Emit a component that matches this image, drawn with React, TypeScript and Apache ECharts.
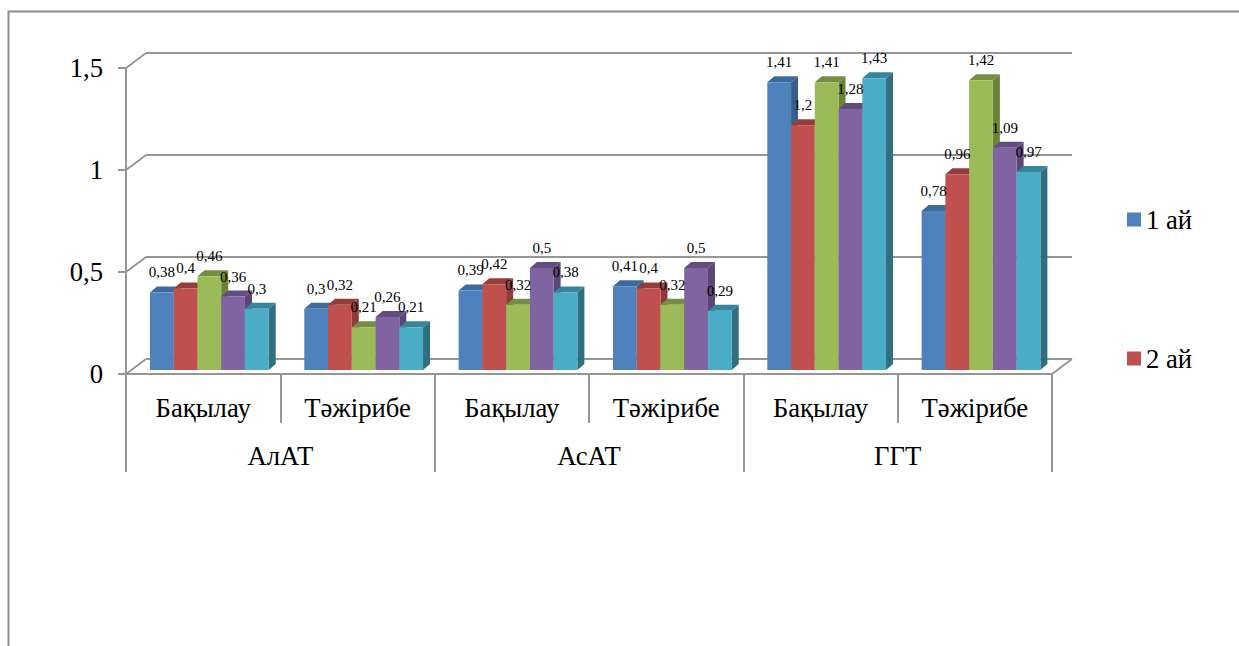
import React, { useEffect, useRef } from "react";
import * as echarts from "echarts";

const subCategories = ["Бақылау", "Тәжірибе", "Бақылау", "Тәжірибе", "Бақылау", "Тәжірибе"];
const mainCategories = ["АлАТ", "АсАТ", "ГГТ"];
const yTicks = [0, 0.5, 1, 1.5];
const legendNames = ["1 ай", "2 ай"];

const month1 = [0.38, 0.3, 0.39, 0.41, 1.41, 0.78];
const month2 = [0.4, 0.32, 0.42, 0.4, 1.2, 0.96];
const month3 = [0.46, 0.21, 0.32, 0.32, 1.41, 1.42];
const month4 = [0.36, 0.26, 0.5, 0.5, 1.28, 1.09];
const month5 = [0.3, 0.21, 0.38, 0.29, 1.43, 0.97];

const names = ["1 ай", "2 ай", "3 ай", "4 ай", "5 ай"];
const seriesValues = [month1, month2, month3, month4, month5];
const frontColors = ["#4f81bd", "#c0504d", "#9bbb59", "#8064a2", "#4bacc6"];
const topColors = ["#3f6a9c", "#963d3b", "#748d42", "#624d80", "#36859b"];
const sideColors = ["#385d8a", "#8e3a38", "#6b8239", "#5a4675", "#2f6f80"];

const FONT = "'Liberation Serif', 'Times New Roman', serif";
const GRAY = "#969696";
const BAR_W = 23.75;
const DX = 7;
const DY = 6;
const comma = (v: number) => String(v).replace(".", ",");

function barRenderer(si: number) {
  return (_p: any, api: any) => {
    const cat = api.value(0);
    const val = api.value(1);
    const [cx, yTop0] = api.coord([cat, val]);
    const [, yBase0] = api.coord([cat, 0]);
    const yTop = yTop0 - 4;
    const yBase = yBase0 - 4;
    const x0 = cx - 53.2 + si * BAR_W;
    const x1 = x0 + BAR_W;
    return {
      type: "group",
      children: [
        {
          type: "polygon",
          shape: { points: [[x1, yTop], [x1 + DX, yTop - DY], [x1 + DX, yBase - DY], [x1, yBase]] },
          style: { fill: sideColors[si] },
        },
        {
          type: "polygon",
          shape: { points: [[x0, yTop], [x0 + DX, yTop - DY], [x1 + DX, yTop - DY], [x1, yTop]] },
          style: { fill: topColors[si] },
        },
        {
          type: "rect",
          shape: { x: x0, y: yTop, width: BAR_W, height: yBase - yTop },
          style: { fill: frontColors[si] },
        },
        {
          type: "text",
          z2: 100,
          style: {
            x: (x0 + x1) / 2,
            y: yTop - 20,
            text: comma(val),
            fill: "#000",
            font: `15px ${FONT}`,
            align: "center",
            verticalAlign: "middle",
          },
        },
      ],
    };
  };
}

function wallRenderer(_p: any, api: any) {
  const val = api.value(0);
  const rect = _p.coordSys;
  const [, y] = api.coord([0, val]);
  const children: any[] = [
    {
      type: "polyline",
      shape: { points: [[rect.x, y], [rect.x + 20, y - 15]] },
      style: { stroke: GRAY, lineWidth: 2, fill: "none" },
    },
  ];
  if (val === 0) {
    children.push({
      type: "polyline",
      shape: { points: [[rect.x + rect.width, y], [rect.x + rect.width + 20, y - 15]] },
      style: { stroke: GRAY, lineWidth: 2, fill: "none" },
    });
  }
  return { type: "group", children };
}

export default function App() {
  const ref = useRef<HTMLDivElement>(null);
  useEffect(() => {
    if (!ref.current) return;
    const chart = echarts.init(ref.current, undefined, { renderer: "svg" });
    chart.setOption({
      animation: false,
      backgroundColor: "#fff",
      graphic: [
        {
          type: "polyline",
          shape: { points: [[8.5, 646], [8.5, 11.5], [1239, 11.5]] },
          style: { stroke: "#8c8c8c", lineWidth: 2, fill: "none" },
        },
      ],
      legend: {
        data: legendNames,
        orient: "vertical",
        left: 1122,
        top: 201,
        itemWidth: 14,
        itemHeight: 14,
        itemGap: 112,
        icon: "rect",
        selectedMode: false,
        textStyle: { fontFamily: FONT, fontSize: 26.7, color: "#000" },
      },
      grid: [
        { left: 126, top: 68, width: 926, height: 306, outerBoundsMode: "none", containLabel: false },
        { left: 146, top: 53, width: 926, height: 306, outerBoundsMode: "none", containLabel: false },
      ],
      xAxis: [
        {
          type: "category",
          gridIndex: 0,
          position: "bottom",
          data: subCategories,
          axisLine: { show: true, lineStyle: { color: GRAY, width: 2 } },
          axisTick: { show: true, length: 49, lineStyle: { color: GRAY, width: 2 } },
          axisLabel: { margin: 20, fontFamily: FONT, fontSize: 26.7, color: "#000", interval: 0 },
        },
        {
          type: "category",
          gridIndex: 0,
          position: "bottom",
          data: mainCategories,
          axisLine: { show: false },
          axisTick: { show: true, length: 98, lineStyle: { color: GRAY, width: 2 } },
          axisLabel: { margin: 68, fontFamily: FONT, fontSize: 26.7, color: "#000", interval: 0 },
        },
        {
          type: "category",
          gridIndex: 1,
          data: subCategories,
          axisLine: { show: false },
          axisTick: { show: false },
          axisLabel: { show: false },
        },
      ],
      yAxis: [
        {
          type: "value",
          gridIndex: 0,
          min: 0,
          max: 1.5,
          interval: 0.5,
          axisLine: { show: true, lineStyle: { color: GRAY, width: 2 } },
          axisTick: { show: true, length: 8, lineStyle: { color: GRAY, width: 2 } },
          splitLine: { show: false },
          axisLabel: {
            margin: 23,
            fontFamily: FONT,
            fontSize: 26.7,
            color: "#000",
            formatter: (v: number) => comma(v),
          },
        },
        {
          type: "value",
          gridIndex: 1,
          min: 0,
          max: 1.5,
          interval: 0.5,
          axisLine: { show: false },
          axisTick: { show: false },
          axisLabel: { show: false },
          splitLine: { show: true, lineStyle: { color: GRAY, width: 2 } },
        },
      ],
      series: [
        {
          type: "custom",
          name: "wall",
          xAxisIndex: 0,
          yAxisIndex: 0,
          clip: false,
          silent: true,
          encode: { y: 0 },
          data: yTicks.map((v) => [v]),
          renderItem: wallRenderer,
        },
        ...seriesValues.map((vals, si) => ({
          type: "custom",
          name: names[si],
          xAxisIndex: 0,
          yAxisIndex: 0,
          clip: false,
          itemStyle: { color: frontColors[si] },
          encode: { x: 0, y: 1 },
          data: vals.map((v, i) => [i, v]),
          renderItem: barRenderer(si),
        })),
      ],
    });
    return () => chart.dispose();
  }, []);
  return (
    <div
      ref={ref}
      style={{ position: "fixed", left: 0, top: 0, width: 1239, height: 646 }}
    />
  );
}
